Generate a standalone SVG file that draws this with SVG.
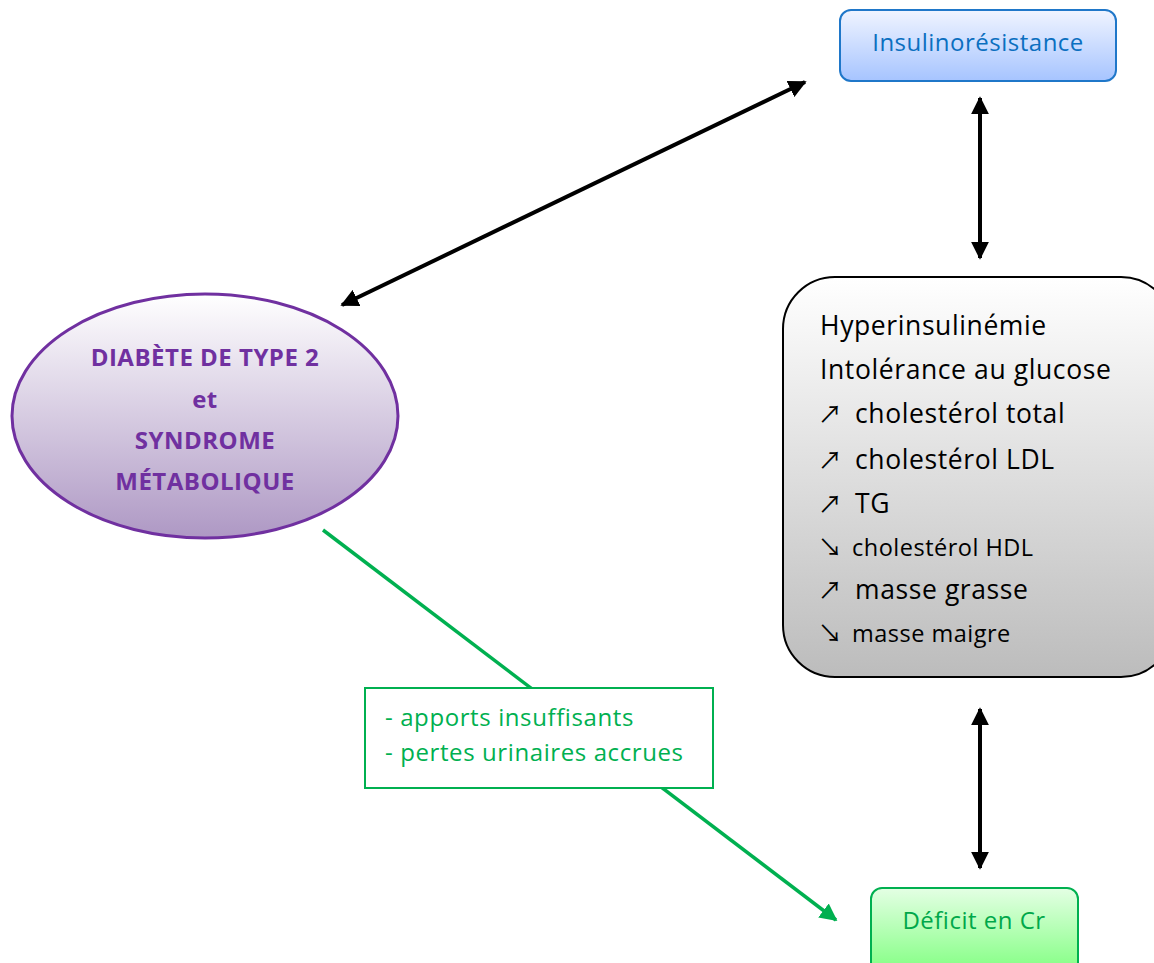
<svg xmlns="http://www.w3.org/2000/svg" width="1154" height="963" viewBox="0 0 1154 963">
<style>
text{font-family:"Open Sans","Noto Sans","Liberation Sans",sans-serif}
.blk{fill:#000;font-size:26.5px;letter-spacing:0.6px}
.sm{font-size:23.5px;letter-spacing:0.5px}
.ar{font-family:"Noto Sans CJK SC","DejaVu Sans",sans-serif;font-size:24px;letter-spacing:0}
.pur{fill:#7030A0;font-size:24px;font-weight:bold;text-anchor:middle;letter-spacing:0.5px}
.grn{fill:#00B050;font-size:24px;letter-spacing:0.6px}
.conn{stroke:#000;stroke-width:4;fill:none}
</style>
<defs>
<linearGradient id="gBlue" x1="0" y1="0" x2="0" y2="1"><stop offset="0" stop-color="#F0F4FF"/><stop offset="1" stop-color="#A6C4FF"/></linearGradient>
<linearGradient id="gPur" x1="0" y1="0" x2="0" y2="1"><stop offset="0" stop-color="#FFFFFF"/><stop offset="1" stop-color="#AE98C4"/></linearGradient>
<linearGradient id="gGray" x1="0" y1="0" x2="0" y2="1"><stop offset="0" stop-color="#FFFFFF"/><stop offset="1" stop-color="#BCBCBC"/></linearGradient>
<linearGradient id="gGreen" x1="0" y1="0" x2="0" y2="1"><stop offset="0" stop-color="#E4FFE4"/><stop offset="1" stop-color="#7CFF7C"/></linearGradient>
<marker id="ab" viewBox="0 0 10 10" refX="9" refY="5" markerWidth="4.5" markerHeight="4.5" orient="auto-start-reverse" markerUnits="strokeWidth"><path d="M0,0L10,5L0,10z" fill="#000"/></marker>
<marker id="ag" viewBox="0 0 10 10" refX="9" refY="5" markerWidth="5" markerHeight="5" orient="auto" markerUnits="strokeWidth"><path d="M0,0L10,5L0,10z" fill="#00B050"/></marker>
</defs>
<g id="connectors">
<line class="conn" x1="342" y1="305" x2="805" y2="82" marker-start="url(#ab)" marker-end="url(#ab)"/>
<line class="conn" x1="980" y1="98" x2="980" y2="258" marker-start="url(#ab)" marker-end="url(#ab)"/>
<line class="conn" x1="980" y1="709" x2="980" y2="868" marker-start="url(#ab)" marker-end="url(#ab)"/>
<line x1="323" y1="530" x2="836" y2="920" stroke="#00B050" stroke-width="3.5" marker-end="url(#ag)"/>
</g>
<g id="insulinoresistance">
<rect x="840" y="10" width="276" height="71" rx="11" fill="url(#gBlue)" stroke="#1F77C9" stroke-width="2"/>
<text x="978" y="51" fill="#0B6FC0" font-size="24" letter-spacing="0.5" text-anchor="middle">Insulinorésistance</text>
</g>
<g id="diabete">
<ellipse cx="205" cy="416" rx="193" ry="122" fill="url(#gPur)" stroke="#7030A0" stroke-width="3"/>
<text class="pur" x="205" y="366">DIABÈTE DE TYPE 2</text>
<text class="pur" x="205" y="408">et</text>
<text class="pur" x="205" y="449">SYNDROME</text>
<text class="pur" x="205" y="490">MÉTABOLIQUE</text>
</g>
<g id="symptomes">
<rect x="783" y="277" width="390" height="400" rx="52" fill="url(#gGray)" stroke="#000" stroke-width="2"/>
<text class="blk" x="820" y="335">Hyperinsulinémie</text>
<text class="blk" x="820" y="379">Intolérance au glucose</text>
<text class="blk" y="423"><tspan class="ar" x="818">↗</tspan><tspan x="855">cholestérol total</tspan></text>
<text class="blk" y="469"><tspan class="ar" x="818">↗</tspan><tspan x="855">cholestérol LDL</tspan></text>
<text class="blk" y="513"><tspan class="ar" x="818">↗</tspan><tspan x="855">TG</tspan></text>
<text class="blk sm" y="556"><tspan class="ar" x="818">↘</tspan><tspan x="852">cholestérol HDL</tspan></text>
<text class="blk" y="599"><tspan class="ar" x="818">↗</tspan><tspan x="855">masse grasse</tspan></text>
<text class="blk sm" y="642"><tspan class="ar" x="818">↘</tspan><tspan x="852">masse maigre</tspan></text>
</g>
<g id="causes">
<rect x="365" y="688" width="348" height="100" fill="#fff" stroke="#00B050" stroke-width="2"/>
<text class="grn" x="385" y="726">- apports insuffisants</text>
<text class="grn" x="385" y="761">- pertes urinaires accrues</text>
</g>
<g id="deficit">
<rect x="871" y="888" width="207" height="90" rx="11" fill="url(#gGreen)" stroke="#00B050" stroke-width="2"/>
<text x="974" y="929" fill="#00A84A" font-size="24" letter-spacing="0.5" text-anchor="middle">Déficit en Cr</text>
</g>
</svg>
